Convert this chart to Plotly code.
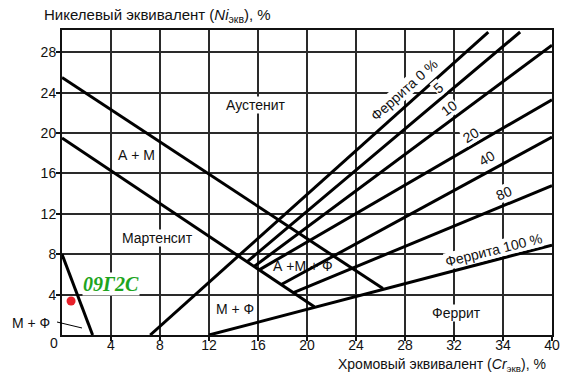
import plotly.graph_objects as go

# ---- data: boundary lines of the Schaeffler diagram (Cr_eq, Ni_eq) ----
am_upper_cr = [0, 26.2]
am_upper_ni = [25.5, 4.6]
m_lower_cr = [0, 20.6]
m_lower_ni = [19.5, 2.8]
mf_short_cr = [0, 2.5]
mf_short_ni = [8, 0]
f0_cr = [7.2, 34.8]
f0_ni = [0, 30]
f5_cr = [15.1, 37.4]
f5_ni = [7.25, 30]
f10_cr = [15.7, 40]
f10_ni = [6.8, 28.7]
f20_cr = [16.1, 40]
f20_ni = [6.45, 23.3]
f40_cr = [17.9, 40]
f40_ni = [5.0, 19.6]
f80_cr = [18.9, 40]
f80_ni = [4.2, 14.8]
f100_cr = [12, 40]
f100_ni = [0, 8.9]

steel_name = "09Г2С"
steel_cr = [0.74]
steel_ni = [3.37]

x_tickvals = [4, 8, 12, 16, 20, 24, 28, 32, 36, 40]
x_ticktext = ["4", "8", "12", "16", "20", "24", "28", "32", "34", "40"]
y_tickvals = [4, 8, 12, 16, 20, 24, 28]
y_ticktext = ["4", "8", "12", "16", "20", "24", "28"]

FONT = "Liberation Sans, Arial, sans-serif"

fig = go.Figure()
for xs, ys in [(am_upper_cr, am_upper_ni), (m_lower_cr, m_lower_ni),
               (mf_short_cr, mf_short_ni), (f0_cr, f0_ni), (f5_cr, f5_ni),
               (f10_cr, f10_ni), (f20_cr, f20_ni), (f40_cr, f40_ni),
               (f80_cr, f80_ni), (f100_cr, f100_ni)]:
    fig.add_trace(go.Scatter(x=xs, y=ys, mode="lines",
                             line=dict(color="black", width=3),
                             hoverinfo="skip", showlegend=False))

fig.add_trace(go.Scatter(x=steel_cr, y=steel_ni, mode="markers",
                         marker=dict(color="#e8202a", size=9),
                         cliponaxis=False, showlegend=False))

ann = []
def lab(text, x, y, angle=0, size=14, bg="white"):
    ann.append(dict(text=text, x=x, y=y, xref="x", yref="y", showarrow=False,
                    textangle=angle, font=dict(family=FONT, size=size, color="#111"),
                    bgcolor=bg, borderpad=0))

lab("Аустенит", 15.8, 22.8)
lab("А + М", 6.1, 17.8)
lab("Мартенсит", 7.8, 9.6)
lab("А +М + Ф", 19.7, 6.8, bg="rgba(0,0,0,0)")
lab("М + Ф", 14.1, 2.6)
lab("Феррит", 32.2, 2.2)
lab("Феррита 0 %", 27.9, 24.3, angle=-42, size=14)
lab("5", 30.7, 24.5, angle=-40)
lab("10", 31.6, 22.5, angle=-37)
lab("20", 33.4, 19.8, angle=-32)
lab("40", 34.7, 17.5, angle=-30)
lab("80", 36.1, 14.1, angle=-22)
lab("Феррита 100 %", 35.2, 8.4, angle=-14, size=14)

ann.append(dict(text="<b><i>" + steel_name + "</i></b>", x=4.0, y=5.05, xref="x", yref="y",
                showarrow=False, bgcolor="white", borderpad=0,
                font=dict(family="Liberation Serif, Times New Roman, serif", size=20, color="#1ea51e")))

# outer texts
ann.append(dict(text="Никелевый эквивалент (<i>Ni</i><sub>экв</sub>), %", x=-0.041, y=1.049,
                xref="paper", yref="paper", xanchor="left", yanchor="middle", showarrow=False,
                font=dict(family=FONT, size=15, color="#111")))
ann.append(dict(text="Хромовый эквивалент (<i>Cr</i><sub>экв</sub>), %", x=0.992, y=-0.097,
                xref="paper", yref="paper", xanchor="right", yanchor="middle", showarrow=False,
                font=dict(family=FONT, size=14, color="#111")))
ann.append(dict(text="М + Ф", x=-0.063, y=0.039, xref="paper", yref="paper",
                xanchor="center", yanchor="middle", showarrow=False,
                font=dict(family=FONT, size=14, color="#111")))
ann.append(dict(text="0", x=-0.004, y=-0.026, xref="paper", yref="paper",
                xanchor="right", yanchor="middle", showarrow=False,
                font=dict(family=FONT, size=14, color="#111")))

fig.update_layout(
    width=569, height=378,
    margin=dict(l=62, r=17, t=30, b=43, autoexpand=False),
    paper_bgcolor="white", plot_bgcolor="white",
    annotations=ann,
    shapes=[dict(type="line", xref="paper", yref="paper", x0=-0.0102, y0=0.0426,
                 x1=0.0408, y1=0.023, line=dict(color="black", width=1))],
    xaxis=dict(range=[0, 40], tickvals=x_tickvals, ticktext=x_ticktext, automargin=False,
               showgrid=True, gridcolor="#2a2a2a", gridwidth=1.6,
               showline=True, linecolor="#111", linewidth=2, mirror=True,
               ticks="outside", ticklen=4, tickcolor="#111", tickwidth=1.6,
               ticklabelstandoff=-8,
               tickfont=dict(family=FONT, size=14, color="#111"), zeroline=False),
    yaxis=dict(range=[0, 30.2], tickvals=y_tickvals, ticktext=y_ticktext, automargin=False,
               showgrid=True, gridcolor="#2a2a2a", gridwidth=1.6,
               showline=True, linecolor="#111", linewidth=2, mirror=True,
               ticks="outside", ticklen=4, tickcolor="#111", tickwidth=1.6,
               ticklabelstandoff=-3,
               tickfont=dict(family=FONT, size=14, color="#111"), zeroline=False),
)
fig.write_html("out.html", config={"displayModeBar": False},
               post_script="document.body.style.margin='0';")
